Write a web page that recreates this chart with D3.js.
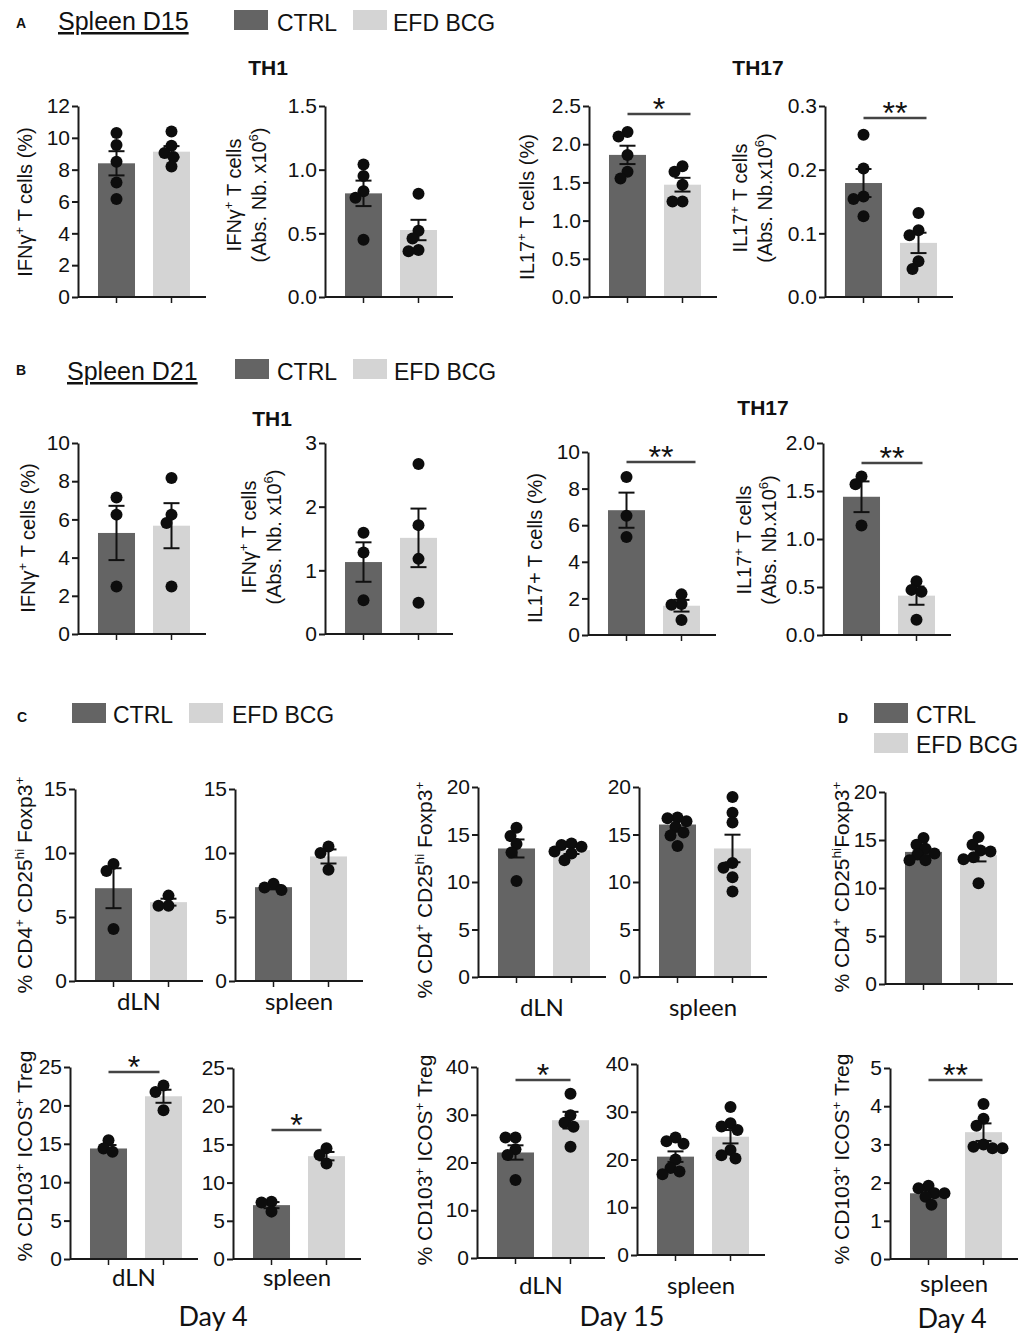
<!DOCTYPE html>
<html>
<head>
<meta charset="utf-8">
<script src="https://cdn.jsdelivr.net/npm/d3@7"></script>
<style>
body { margin: 0; background: #fff; }
svg text { font-family: "Liberation Sans", Arial, sans-serif; fill: #111; }
svg text.cat { font-family: Lato, "Open Sans", sans-serif; }
</style>
</head>
<body>
<div id="chart"></div>
<script>
const groups = ["CTRL", "EFD BCG"];

// A - spleen D15
const a1Ticks = [0, 2, 4, 6, 8, 10, 12];
const a1Mean = [8.4, 9.13];
const a1Sem = [0.76, 0.35];
const a1Ctrl = [10.3, 9.55, 8.5, 7.2, 6.15];
const a1Efd = [10.4, 9.5, 9.05, 8.8, 8.2];

const a2Ticks = [0, 0.5, 1.0, 1.5];
const a2Mean = [0.814, 0.526];
const a2Sem = [0.1, 0.08];
const a2Ctrl = [1.04, 0.95, 0.83, 0.78, 0.45];
const a2Efd = [0.81, 0.52, 0.46, 0.37, 0.36];

const a3Ticks = [0, 0.5, 1.0, 1.5, 2.0, 2.5];
const a3Mean = [1.86, 1.47];
const a3Sem = [0.12, 0.09];
const a3Ctrl = [2.16, 2.10, 1.86, 1.64, 1.55];
const a3Efd = [1.71, 1.64, 1.47, 1.25, 1.25];

const a4Ticks = [0, 0.1, 0.2, 0.3];
const a4Mean = [0.179, 0.085];
const a4Sem = [0.022, 0.016];
const a4Ctrl = [0.255, 0.202, 0.158, 0.154, 0.127];
const a4Efd = [0.132, 0.105, 0.097, 0.056, 0.044];

// B - spleen D21
const b1Ticks = [0, 2, 4, 6, 8, 10];
const b1Mean = [5.29, 5.67];
const b1Sem = [1.42, 1.18];
const b1Ctrl = [7.15, 6.25, 2.49];
const b1Efd = [8.17, 6.25, 5.81, 2.49];

const b2Ticks = [0, 1, 2, 3];
const b2Mean = [1.13, 1.51];
const b2Sem = [0.31, 0.46];
const b2Ctrl = [1.59, 1.28, 0.53];
const b2Efd = [2.67, 1.71, 1.18, 0.49];

const b3Ticks = [0, 2, 4, 6, 8, 10];
const b3Mean = [6.82, 1.6];
const b3Sem = [0.96, 0.32];
const b3Ctrl = [8.64, 6.51, 5.36];
const b3Efd = [2.22, 1.69, 1.65, 0.82];

const b4Ticks = [0, 0.5, 1.0, 1.5, 2.0];
const b4Mean = [1.44, 0.41];
const b4Sem = [0.16, 0.095];
const b4Ctrl = [1.65, 1.57, 1.14];
const b4Efd = [0.56, 0.47, 0.45, 0.16];

// C - Foxp3 Treg, day 4 / day 15
const c1Ticks = [0, 5, 10, 15];
const c1Mean = [7.25, 6.16];
const c1Sem = [1.56, 0.27];
const c1Ctrl = [9.15, 8.6, 4.07];
const c1Efd = [6.67, 5.87, 5.87];

const c2Ticks = [0, 5, 10, 15];
const c2Mean = [7.33, 9.73];
const c2Sem = [0.17, 0.55];
const c2Ctrl = [7.6, 7.3, 7.1];
const c2Efd = [10.5, 10.0, 8.7];

const c3Ticks = [0, 5, 10, 15, 20];
const c3Mean = [13.53, 13.35];
const c3Sem = [0.95, 0.4];
const c3Ctrl = [15.7, 14.85, 14.0, 13.1, 10.1];
const c3Efd = [14.05, 13.9, 13.7, 13.2, 13.0, 12.3];

const c4Ticks = [0, 5, 10, 15, 20];
const c4Mean = [16.05, 13.53];
const c4Sem = [0.6, 1.45];
const c4Ctrl = [16.8, 16.7, 16.4, 15.8, 15.2, 14.9, 13.8];
const c4Efd = [18.95, 17.3, 16.26, 12.0, 11.5, 10.5, 9.0];

const c5Ticks = [0, 5, 10, 15, 20, 25];
const c5Mean = [14.39, 21.19];
const c5Sem = [0.45, 0.85];
const c5Ctrl = [15.47, 14.4, 13.95];
const c5Efd = [22.6, 21.75, 19.37];

const c6Ticks = [0, 5, 10, 15, 20, 25];
const c6Mean = [7.05, 13.46];
const c6Sem = [0.4, 0.55];
const c6Ctrl = [7.5, 7.4, 6.2];
const c6Efd = [14.5, 13.6, 12.5];

const c7Ticks = [0, 10, 20, 30, 40];
const c7Mean = [22.1, 28.86];
const c7Sem = [1.5, 1.75];
const c7Ctrl = [25.25, 25.25, 22.75, 21.56, 16.34];
const c7Efd = [34.4, 29.9, 28.3, 27.5, 23.3];

const c8Ticks = [0, 10, 20, 30, 40];
const c8Mean = [20.6, 24.77];
const c8Sem = [1.1, 1.4];
const c8Ctrl = [24.6, 23.8, 23.3, 20.0, 18.2, 17.5, 16.9];
const c8Efd = [31.0, 27.6, 26.9, 26.2, 22.0, 20.9, 20.2];

// D - day 4 spleen
const d1Ticks = [0, 5, 10, 15, 20];
const d1Mean = [13.76, 13.42];
const d1Sem = [0.35, 0.65];
const d1Ctrl = [15.2, 14.5, 14.1, 13.6, 13.5, 12.9, 12.9];
const d1Efd = [15.3, 14.5, 13.9, 13.8, 13.2, 13.0, 10.5];

const d2Ticks = [0, 1, 2, 3, 4, 5];
const d2Mean = [1.72, 3.32];
const d2Sem = [0.08, 0.23];
const d2Ctrl = [1.92, 1.85, 1.72, 1.72, 1.63, 1.42];
const d2Efd = [4.06, 3.67, 3.49, 3.0, 2.94, 2.9, 2.9];

const labIfnPct = "IFNγ^{+} T cells (%)";
const labIfnAbs = ["IFNγ^{+} T cells", "(Abs. Nb. x10^{6})"];
const labIl17Pct = "IL17^{+} T cells (%)";
const labIl17Abs = ["IL17^{+} T cells", "(Abs. Nb.x10^{6})"];
const labFoxp3 = "% CD4^{+} CD25^{hi} Foxp3^{+}";
const labFoxp3D = "% CD4^{+} CD25^{hi}Foxp3^{+}";
const labIcos = "% CD103^{+} ICOS^{+} Treg";

const barColors = ["#646464", "#d4d4d4"];

const panels = [
  { x0: 78,  top: 106, bot: 297, ticks: a1Ticks, fmt: "d", mean: a1Mean, sem: a1Sem, pts: [a1Ctrl, a1Efd], lab: labIfnPct, lx: 25, ly: 202, fs: 20 },
  { x0: 325, top: 106, bot: 297, ticks: a2Ticks, fmt: ".1f", mean: a2Mean, sem: a2Sem, pts: [a2Ctrl, a2Efd], lab: labIfnAbs, lx: 246, ly: 195, fs: 20 },
  { x0: 589, top: 106, bot: 297, ticks: a3Ticks, fmt: ".1f", mean: a3Mean, sem: a3Sem, pts: [a3Ctrl, a3Efd], lab: labIl17Pct, lx: 527, ly: 207, fs: 20, sig: "*", sy: 114, sr: 8 },
  { x0: 825, top: 106, bot: 297, ticks: a4Ticks, fmt: ".1f", mean: a4Mean, sem: a4Sem, pts: [a4Ctrl, a4Efd], lab: labIl17Abs, lx: 752, ly: 198, fs: 20, sig: "**", sy: 118, sr: 8 },
  { x0: 78,  top: 443, bot: 634, ticks: b1Ticks, fmt: "d", mean: b1Mean, sem: b1Sem, pts: [b1Ctrl, b1Efd], lab: labIfnPct, lx: 28, ly: 538, fs: 20 },
  { x0: 325, top: 443, bot: 634, ticks: b2Ticks, fmt: "d", mean: b2Mean, sem: b2Sem, pts: [b2Ctrl, b2Efd], lab: labIfnAbs, lx: 261, ly: 537, fs: 20 },
  { x0: 588, top: 452, bot: 635, ticks: b3Ticks, fmt: "d", mean: b3Mean, sem: b3Sem, pts: [b3Ctrl, b3Efd], lab: labIl17Pct.replace("^{+}", "+"), lx: 535, ly: 548, fs: 20, sig: "**", sy: 462, sr: 14 },
  { x0: 823, top: 443, bot: 635, ticks: b4Ticks, fmt: ".1f", mean: b4Mean, sem: b4Sem, pts: [b4Ctrl, b4Efd], lab: labIl17Abs, lx: 756, ly: 540, fs: 20, sig: "**", sy: 463, sr: 6 },
  { x0: 75,  top: 789, bot: 981, ticks: c1Ticks, fmt: "d", mean: c1Mean, sem: c1Sem, pts: [c1Ctrl, c1Efd], lab: labFoxp3, lx: 25, ly: 885, fs: 21, cat: "dLN", cy: 1010 },
  { x0: 235, top: 789, bot: 981, ticks: c2Ticks, fmt: "d", mean: c2Mean, sem: c2Sem, pts: [c2Ctrl, c2Efd], cat: "spleen", cy: 1010 },
  { x0: 478, top: 787, bot: 977, ticks: c3Ticks, fmt: "d", mean: c3Mean, sem: c3Sem, pts: [c3Ctrl, c3Efd], lab: labFoxp3, lx: 425, ly: 890, fs: 21, cat: "dLN", cy: 1016 },
  { x0: 639, top: 787, bot: 977, ticks: c4Ticks, fmt: "d", mean: c4Mean, sem: c4Sem, pts: [c4Ctrl, c4Efd], cat: "spleen", cy: 1016 },
  { x0: 885, top: 792, bot: 984, ticks: d1Ticks, fmt: "d", mean: d1Mean, sem: d1Sem, pts: [d1Ctrl, d1Efd], lab: labFoxp3D, lx: 842, ly: 887, fs: 21 },
  { x0: 70,  top: 1067, bot: 1259, ticks: c5Ticks, fmt: "d", mean: c5Mean, sem: c5Sem, pts: [c5Ctrl, c5Efd], lab: labIcos, lx: 25, ly: 1156, fs: 21, cat: "dLN", cy: 1286, sig: "*", sy: 1072, sr: -4 },
  { x0: 233, top: 1068, bot: 1259, ticks: c6Ticks, fmt: "d", mean: c6Mean, sem: c6Sem, pts: [c6Ctrl, c6Efd], cat: "spleen", cy: 1286, sig: "*", sy: 1130, sr: -5 },
  { x0: 477, top: 1067, bot: 1258, ticks: c7Ticks, fmt: "d", mean: c7Mean, sem: c7Sem, pts: [c7Ctrl, c7Efd], lab: labIcos, lx: 425, ly: 1160, fs: 21, cat: "dLN", cy: 1294, sig: "*", sy: 1080, sr: 0 },
  { x0: 637, top: 1064, bot: 1255, ticks: c8Ticks, fmt: "d", mean: c8Mean, sem: c8Sem, pts: [c8Ctrl, c8Efd], cat: "spleen", cy: 1294 },
  { x0: 890, top: 1068, bot: 1259, ticks: d2Ticks, fmt: "d", mean: d2Mean, sem: d2Sem, pts: [d2Ctrl, d2Efd], lab: labIcos, lx: 842, ly: 1159, fs: 21, cat: "spleen", cy: 1292, sig: "**", sy: 1080, sr: -1 }
];

const svg = d3.select("#chart")
  .append("svg")
  .attr("width", 1031)
  .attr("height", 1339);

// writes "a^{b}" markup into a text element as tspans
function rich(sel, str) {
  const parts = str.split(/(\^\{[^}]*\})/).filter(s => s.length);
  let up = false;
  parts.forEach(p => {
    if (p.startsWith("^{")) {
      sel.append("tspan").attr("font-size", "65%").attr("dy", "-0.6em").text(p.slice(2, -1));
      up = true;
    } else {
      sel.append("tspan").attr("dy", up ? "0.39em" : null).text(p);
      up = false;
    }
  });
}

// greedy dodge so close dots sit side by side (overlap allowed a bit)
function dodge(ys, r) {
  const placed = [];
  const minD = r * 1.6;
  return ys.map(y => {
    let off = 0;
    for (let k = 0; k < 60; k++) {
      const o = (k % 2 ? -1 : 1) * Math.ceil(k / 2);
      const ok = placed.every(p => (p.x - o) ** 2 + (p.y - y) ** 2 >= minD * minD);
      if (ok) { off = o; break; }
    }
    placed.push({ x: off, y: y });
    return off;
  });
}

function drawPanel(p) {
  const g = svg.append("g");
  const y = d3.scaleLinear().domain([0, d3.max(p.ticks)]).range([p.bot, p.top]);
  const x = d3.scaleBand().domain(groups)
    .range([p.x0 + 11, p.x0 + 121])
    .paddingInner(0.327)
    .paddingOuter(0.1636);
  const bw = x.bandwidth();
  const cx = gr => x(gr) + bw / 2;

  g.selectAll("rect.bar")
    .data(groups)
    .join("rect")
    .attr("class", "bar")
    .attr("x", d => x(d))
    .attr("y", (d, i) => y(p.mean[i]))
    .attr("width", bw)
    .attr("height", (d, i) => p.bot - y(p.mean[i]))
    .attr("fill", (d, i) => barColors[i]);

  // error bars (mean +/- sem)
  groups.forEach((gr, i) => {
    const lo = y(p.mean[i] - p.sem[i]);
    const hi = y(p.mean[i] + p.sem[i]);
    const c = cx(gr);
    g.append("line").attr("x1", c).attr("x2", c).attr("y1", lo).attr("y2", hi)
      .attr("stroke", "#111").attr("stroke-width", 2);
    [lo, hi].forEach(v => {
      g.append("line").attr("x1", c - 8).attr("x2", c + 8).attr("y1", v).attr("y2", v)
        .attr("stroke", "#111").attr("stroke-width", 2);
    });
  });

  // dots
  groups.forEach((gr, i) => {
    const ys = p.pts[i].map(v => y(v));
    const offs = dodge(ys, 6);
    g.selectAll(null)
      .data(p.pts[i])
      .join("circle")
      .attr("cx", (d, j) => cx(gr) + offs[j])
      .attr("cy", d => y(d))
      .attr("r", 6)
      .attr("fill", "#0d0d0d");
  });

  // y axis
  const yAxis = g.append("g")
    .attr("transform", `translate(${p.x0},0)`)
    .call(d3.axisLeft(y).tickValues(p.ticks).tickSize(6).tickSizeOuter(0).tickPadding(2)
      .tickFormat(d3.format(p.fmt)));
  yAxis.select(".domain").attr("stroke", "#1a1a1a").attr("stroke-width", 2);
  yAxis.selectAll(".tick line").attr("stroke", "#1a1a1a").attr("stroke-width", 2);
  yAxis.selectAll(".tick text").attr("font-size", 21).attr("fill", "#111")
    .style("font-family", '"Liberation Sans", Arial, sans-serif');

  // x axis
  g.append("line")
    .attr("x1", p.x0).attr("x2", p.x0 + 128)
    .attr("y1", p.bot).attr("y2", p.bot)
    .attr("stroke", "#1a1a1a").attr("stroke-width", 2);
  const xAxis = g.append("g")
    .attr("transform", `translate(0,${p.bot})`)
    .call(d3.axisBottom(x).tickSize(6).tickSizeOuter(0).tickFormat(""));
  xAxis.select(".domain").remove();
  xAxis.selectAll(".tick line").attr("stroke", "#1a1a1a").attr("stroke-width", 1.5);

  // y label
  if (p.lab) {
    const lines = Array.isArray(p.lab) ? p.lab : [p.lab];
    const lg = g.append("g").attr("transform", `translate(${p.lx},${p.ly}) rotate(-90)`);
    lines.forEach((ln, k) => {
      const t = lg.append("text")
        .attr("x", 0)
        .attr("y", (k - (lines.length - 1) / 2) * 25)
        .attr("dy", "0.35em")
        .attr("text-anchor", "middle")
        .attr("font-size", p.fs);
      rich(t, ln);
    });
  }

  // category label
  if (p.cat) {
    g.append("text")
      .attr("class", "cat")
      .attr("x", p.x0 + 64)
      .attr("y", p.cy)
      .attr("text-anchor", "middle")
      .attr("font-size", 24)
      .text(p.cat);
  }

  // significance
  if (p.sig) {
    const xa = cx(groups[0]);
    const xb = cx(groups[1]) + p.sr;
    g.append("line")
      .attr("x1", xa).attr("x2", xb)
      .attr("y1", p.sy).attr("y2", p.sy)
      .attr("stroke", "#444").attr("stroke-width", 2.5);
    g.append("text")
      .attr("x", (xa + xb) / 2)
      .attr("y", p.sy + 6)
      .attr("text-anchor", "middle")
      .attr("font-size", 32)
      .text(p.sig);
  }
}

panels.forEach(drawPanel);

// headers, legends, titles
const headers = [
  { letter: "A", lx: 16, ly: 28, title: "Spleen D15", tx: 58, ty: 30 },
  { letter: "B", lx: 16, ly: 375, title: "Spleen D21", tx: 67, ty: 380 }
];
headers.forEach(h => {
  svg.append("text").attr("x", h.lx).attr("y", h.ly)
    .attr("font-size", 14).attr("font-weight", "bold").text(h.letter);
  svg.append("text").attr("x", h.tx).attr("y", h.ty)
    .attr("font-size", 25).attr("text-decoration", "underline").text(h.title);
});
svg.append("text").attr("x", 17).attr("y", 722)
  .attr("font-size", 14).attr("font-weight", "bold").text("C");
svg.append("text").attr("x", 838).attr("y", 723)
  .attr("font-size", 14).attr("font-weight", "bold").text("D");

const legends = [
  { x: 234, y: 10, tx: 277, ty: 31 }, { x: 353, y: 10, tx: 393, ty: 31 },
  { x: 235, y: 359, tx: 277, ty: 380 }, { x: 353, y: 359, tx: 394, ty: 380 },
  { x: 72, y: 703, tx: 113, ty: 723 }, { x: 189, y: 703, tx: 232, ty: 723 },
  { x: 874, y: 703, tx: 916, ty: 723 }, { x: 874, y: 733, tx: 916, ty: 753 }
];
legends.forEach((l, i) => {
  svg.append("rect").attr("x", l.x).attr("y", l.y).attr("width", 34).attr("height", 20)
    .attr("fill", barColors[i % 2]);
  svg.append("text").attr("x", l.tx).attr("y", l.ty).attr("font-size", 23).text(groups[i % 2]);
});

const titles = [
  { t: "TH1", x: 268, y: 75 }, { t: "TH17", x: 758, y: 75 },
  { t: "TH1", x: 272, y: 426 }, { t: "TH17", x: 763, y: 415 }
];
titles.forEach(d => {
  svg.append("text").attr("x", d.x).attr("y", d.y).attr("text-anchor", "middle")
    .attr("font-size", 21).attr("font-weight", "bold").text(d.t);
});

const days = [
  { t: "Day 4", x: 213, y: 1326 }, { t: "Day 15", x: 622, y: 1326 }, { t: "Day 4", x: 952, y: 1328 }
];
days.forEach(d => {
  svg.append("text").attr("class", "cat").attr("x", d.x).attr("y", d.y)
    .attr("text-anchor", "middle").attr("font-size", 27).text(d.t);
});
</script>
</body>
</html>
